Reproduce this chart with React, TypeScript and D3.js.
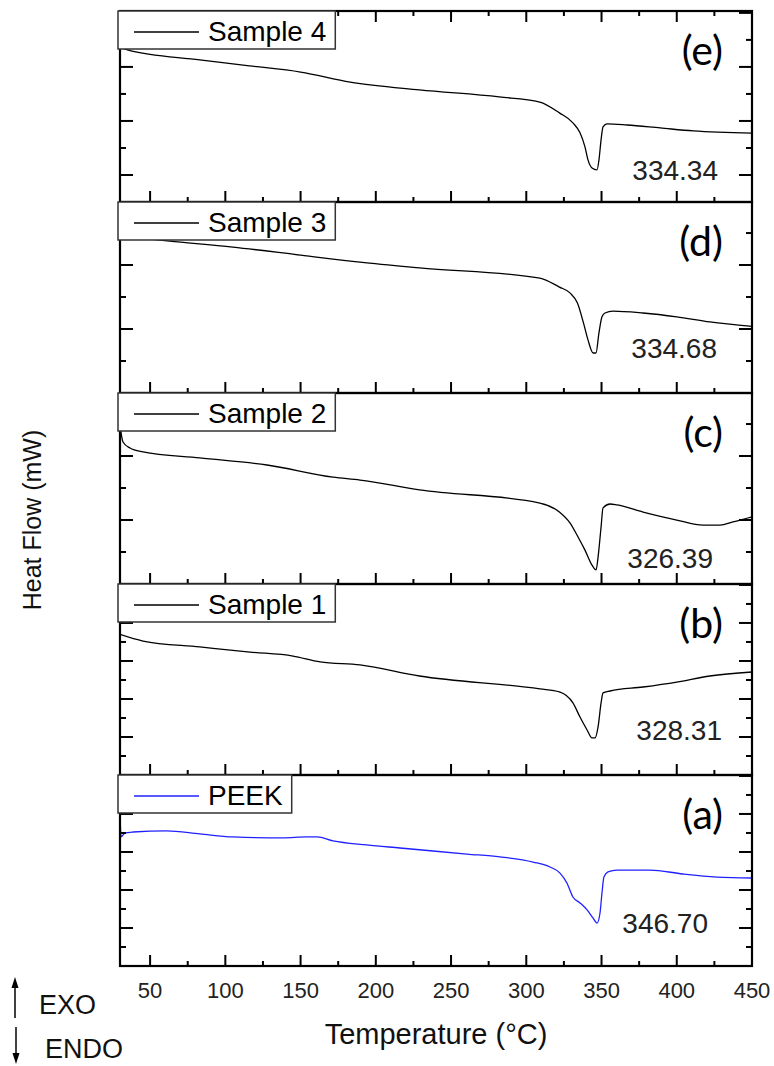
import React, { useRef, useEffect } from 'react';
import * as d3 from 'd3';

// temperature (°C), heat flow (a.u.)
const sample4: [number, number][] = [
  [30, 5.74], [35, 5.63], [83, 5.26], [116, 5.04], [150, 4.81], [183, 4.44],
  [229, 4.15], [282, 3.89], [309, 3.7], [322, 3.3], [331, 2.93], [335.7, 2.56],
  [339, 2.04], [341, 1.56], [343.7, 1.26], [347, 1.19], [348.3, 1.56], [349.7, 2.3],
  [351, 2.78], [353.7, 2.89], [367, 2.85], [389, 2.74], [411, 2.63], [450, 2.55],
];
const sample3: [number, number][] = [
  [30, 4.91], [63, 4.75], [105, 4.56], [150, 4.31], [189.5, 4.09], [229, 3.91],
  [309, 3.59], [322, 3.31], [329, 3.13], [334, 2.81], [338, 2.19], [341, 1.66],
  [344.4, 1.25], [346.3, 1.25], [348.3, 1.88], [350.3, 2.38], [352.3, 2.5],
  [357.6, 2.56], [377.6, 2.5], [400, 2.38], [422, 2.22], [450, 2.08],
];
const sample2: [number, number][] = [
  [30, 4.95], [32, 4.44], [36.6, 4.25], [45.3, 4.13], [83, 3.94], [127.7, 3.72],
  [171.6, 3.34], [189.5, 3.25], [229, 2.94], [309, 2.53], [322, 2.25], [329, 1.91],
  [334.4, 1.47], [339, 1.06], [343.7, 0.59], [346.4, 0.44], [347.7, 0.84],
  [349.7, 1.78], [351, 2.38], [355.7, 2.5], [360.3, 2.47], [377.6, 2.25],
  [400, 2.0], [417.5, 1.84], [428.8, 1.84], [437.4, 1.94], [450, 2.1],
];
const sample1: [number, number][] = [
  [30, 7.4], [45.3, 7.05], [83, 6.74], [116.4, 6.47], [145, 6.26], [163, 5.95],
  [189.5, 5.79], [229, 5.21], [309, 4.53], [322, 4.37], [331, 3.79], [335.7, 3.05],
  [340.4, 2.37], [343.7, 1.95], [345.7, 1.95], [347.7, 2.53], [349.7, 3.79],
  [351, 4.32], [355.7, 4.42], [377.6, 4.63], [400, 4.89], [422, 5.21], [450, 5.42],
];
const peek: [number, number][] = [
  [30, 8.1], [30.7, 6.79], [33.3, 7.0], [38.6, 7.05], [61, 7.11], [83, 6.95],
  [105, 6.79], [138.3, 6.74], [154, 6.79], [161, 6.79], [171.6, 6.58], [194, 6.37],
  [216, 6.21], [238, 6.05], [260.6, 5.89], [282.5, 5.74], [304.5, 5.47],
  [315.8, 5.21], [322.4, 4.89], [327, 4.37], [331, 3.63], [335.7, 3.32],
  [340.4, 2.95], [344.3, 2.53], [347, 2.26], [349, 2.79], [350.3, 3.84],
  [351.6, 4.68], [354.3, 4.95], [360.3, 5.05], [382.2, 5.05], [404, 4.84],
  [426.7, 4.68], [450, 4.63],
];

// panels from top to bottom
const seriesNames = ['Sample 4', 'Sample 3', 'Sample 2', 'Sample 1', 'PEEK'];
const panelTags = ['(e)', '(d)', '(c)', '(b)', '(a)'];
const peakLabels = ['334.34', '334.68', '326.39', '328.31', '346.70'];
const yDomains: [number, number][] = [[0, 7.07], [0, 5.97], [0, 5.97], [0, 10.05], [0, 10.05]];
const xTicks = [50, 100, 150, 200, 250, 300, 350, 400, 450];
const xMinorTicks = [75, 125, 175, 225, 275, 325, 375, 425];

const curves = [sample4, sample3, sample2, sample1, peek];
const colors = ['#000', '#000', '#000', '#000', '#2020ff'];
const majorEven = [false, true, true, true, true];
const peakPos = [[718, 180], [717, 358], [713, 568], [722, 740], [708, 933]];

const W = 774;
const H = 1066;

const App = () => {
  const svgRef = useRef<SVGSVGElement>(null);

  useEffect(() => {
    const svg = d3.select(svgRef.current);
    svg.selectAll('*').remove();

    const left = 120;
    const right = 752;
    const top0 = 11;
    const ph = 191;
    const sans = "'Liberation Sans', Arial, sans-serif";

    const x = d3.scaleLinear().domain([30, 450]).range([left, right]);

    curves.forEach((data, i) => {
      const y0 = top0 + i * ph;
      const y = d3.scaleLinear().domain(yDomains[i]).range([y0 + ph, y0]);
      const g = svg.append('g');

      g.append('clipPath').attr('id', `clip${i}`)
        .append('rect').attr('x', left).attr('y', y0).attr('width', right - left).attr('height', ph);

      const line = d3.line<[number, number]>()
        .x(d => x(d[0]))
        .y(d => y(d[1]))
        .curve(d3.curveMonotoneX);

      g.append('path')
        .attr('d', line(data))
        .attr('clip-path', `url(#clip${i})`)
        .attr('fill', 'none')
        .attr('stroke', colors[i])
        .attr('stroke-width', 1.3);

      // x ticks, inward from bottom (and top on first panel)
      const tickG = g.append('g').attr('stroke', '#000').attr('stroke-width', 2);
      xTicks.concat(xMinorTicks).forEach(t => {
        const len = xTicks.includes(t) ? 11 : 5;
        tickG.append('line').attr('x1', x(t)).attr('x2', x(t))
          .attr('y1', y0 + ph).attr('y2', y0 + ph - len);
        if (i === 0) {
          tickG.append('line').attr('x1', x(t)).attr('x2', x(t))
            .attr('y1', y0).attr('y2', y0 + len);
        }
      });

      // y ticks, inward on both sides
      const yt = d3.range(1, Math.floor(yDomains[i][1]) + 1);
      yt.forEach(v => {
        const major = (v % 2 === 0) === majorEven[i];
        const len = major ? 13 : 6;
        tickG.append('line').attr('x1', left).attr('x2', left + len)
          .attr('y1', y(v)).attr('y2', y(v));
        tickG.append('line').attr('x1', right).attr('x2', right - len)
          .attr('y1', y(v)).attr('y2', y(v));
      });

      g.append('rect')
        .attr('x', left).attr('y', y0).attr('width', right - left).attr('height', ph)
        .attr('fill', 'none').attr('stroke', '#000').attr('stroke-width', 2.2);

      // legend box
      const lg = g.append('g');
      const box = lg.append('rect')
        .attr('x', 118).attr('y', y0).attr('height', 38)
        .attr('fill', '#fff').attr('stroke', '#333').attr('stroke-width', 1.5);
      lg.append('line')
        .attr('x1', 134).attr('x2', 199).attr('y1', y0 + 21).attr('y2', y0 + 21)
        .attr('stroke', colors[i]).attr('stroke-width', 1.3);
      const lt = lg.append('text')
        .attr('x', 208).attr('y', y0 + 30)
        .style('font-family', sans).style('font-size', '28px')
        .text(seriesNames[i]);
      const tw = (lt.node() as SVGTextElement).getComputedTextLength();
      box.attr('width', 208 + tw + 9 - 118);

      g.append('text')
        .attr('x', 723).attr('y', y0 + 54)
        .attr('text-anchor', 'end')
        .style('font-family', "Lato, 'Open Sans', sans-serif").style('font-size', '41px')
        .text(panelTags[i]);

      g.append('text')
        .attr('x', peakPos[i][0]).attr('y', peakPos[i][1])
        .attr('text-anchor', 'end')
        .style('font-family', sans).style('font-size', '28px')
        .style('fill', '#222')
        .text(peakLabels[i]);
    });

    const bottom = top0 + 5 * 191;

    svg.append('g').selectAll('text')
      .data(xTicks)
      .enter()
      .append('text')
      .attr('x', d => x(d))
      .attr('y', bottom + 32)
      .attr('text-anchor', 'middle')
      .style('font-family', sans).style('font-size', '22px')
      .style('fill', '#222')
      .text(d => d);

    svg.append('text')
      .attr('x', 436).attr('y', 1044)
      .attr('text-anchor', 'middle')
      .style('font-family', sans).style('font-size', '29px')
      .style('fill', '#111')
      .text('Temperature (°C)');

    svg.append('text')
      .attr('transform', 'translate(41,520) rotate(-90)')
      .attr('text-anchor', 'middle')
      .style('font-family', sans).style('font-size', '25px')
      .style('fill', '#111')
      .text('Heat Flow (mW)');

    // EXO / ENDO markers
    svg.append('line').attr('x1', 15).attr('x2', 15).attr('y1', 986).attr('y2', 1018)
      .attr('stroke', '#000').attr('stroke-width', 1.5);
    svg.append('path').attr('d', 'M15,977 L11.5,988 L18.5,988 Z').attr('fill', '#000');
    svg.append('line').attr('x1', 16).attr('x2', 16).attr('y1', 1027).attr('y2', 1055)
      .attr('stroke', '#000').attr('stroke-width', 1.5);
    svg.append('path').attr('d', 'M16,1064 L12.5,1053 L19.5,1053 Z').attr('fill', '#000');

    svg.append('text').attr('x', 39).attr('y', 1014)
      .style('font-family', sans).style('font-size', '27px').style('fill', '#111')
      .text('EXO');
    svg.append('text').attr('x', 45).attr('y', 1058)
      .style('font-family', sans).style('font-size', '27px').style('fill', '#111')
      .text('ENDO');
  }, []);

  return (
    <svg
      ref={svgRef}
      width={W}
      height={H}
      style={{ position: 'absolute', left: 0, top: 0, background: '#fff' }}
    />
  );
};

export default App;
